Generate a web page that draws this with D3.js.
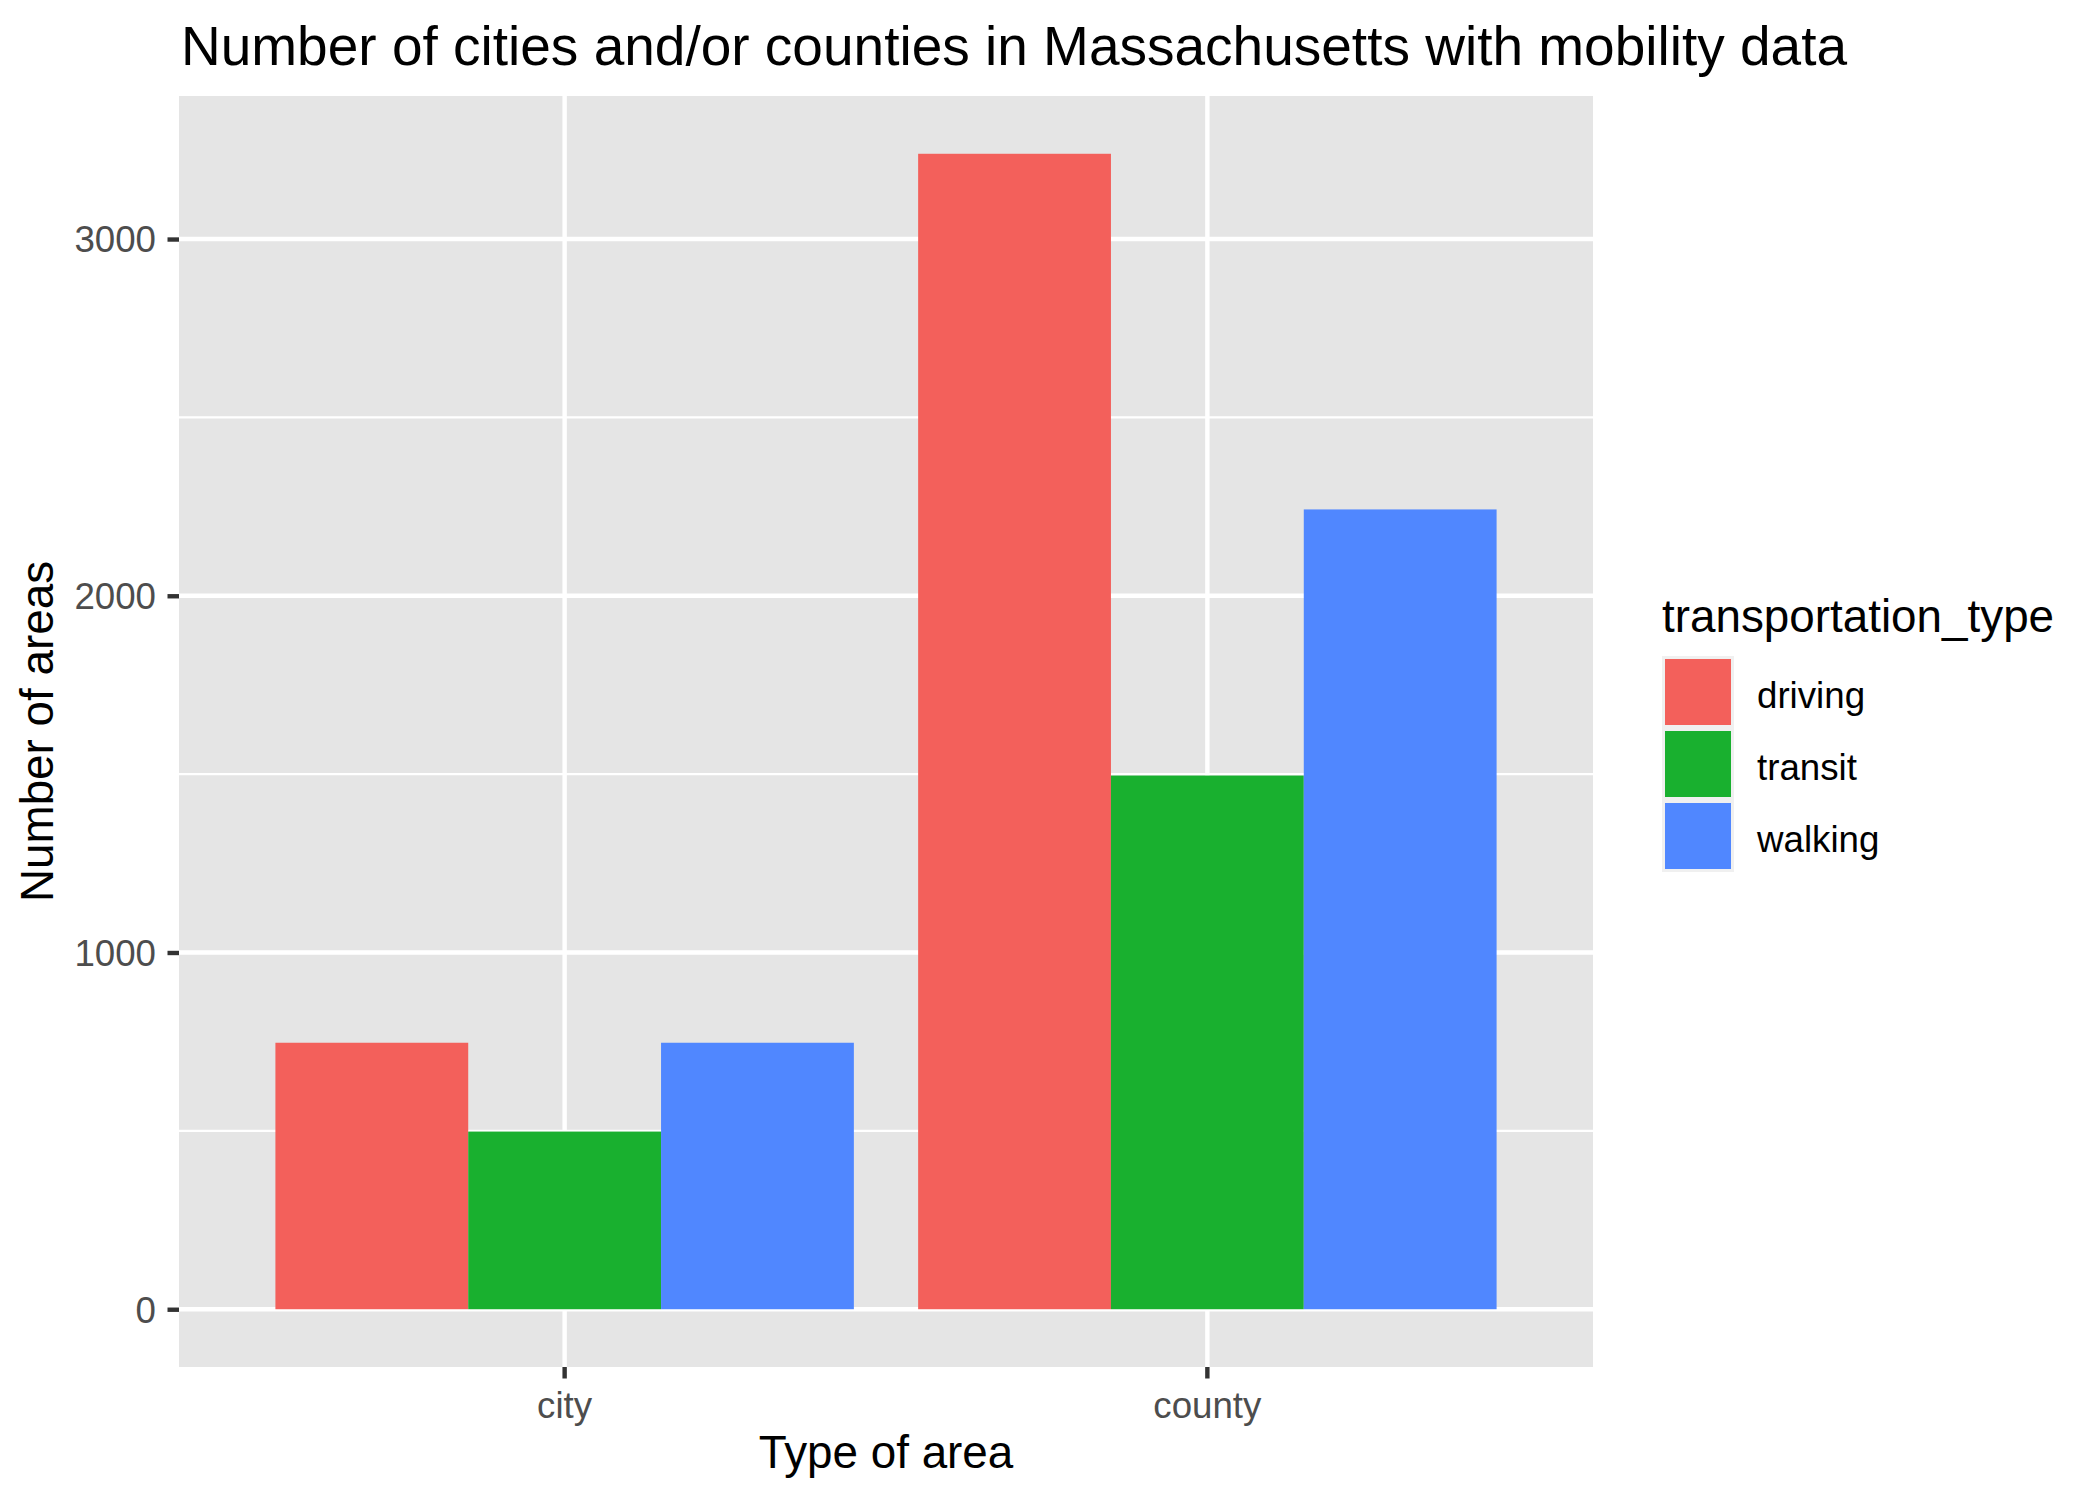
<!DOCTYPE html>
<html>
<head>
<meta charset="utf-8">
<script src="https://cdn.jsdelivr.net/npm/d3@7"></script>
<style>
html, body { margin: 0; padding: 0; background: #fff; }
svg { display: block; font-family: "Liberation Sans", Arial, Helvetica, sans-serif; }
</style>
</head>
<body>
<svg id="chart" width="2099" height="1499"></svg>
<script>
// ---- data ----
const categories = ["city", "county"];
const seriesNames = ["driving", "transit", "walking"];
const driving = [747, 3239];
const transit = [498, 1496];
const walking = [747, 2242];
const yTicks = [0, 1000, 2000, 3000];
const yMinorTicks = [500, 1500, 2500];
const titleText = "Number of cities and/or counties in Massachusetts with mobility data";
const xTitle = "Type of area";
const yTitle = "Number of areas";
const legendTitle = "transportation_type";

const seriesValues = { driving, transit, walking };
const colors = ["#F3605B", "#19B02F", "#5087FF"];

// ---- layout ----
const W = 2099, H = 1499;
const panel = { left: 179, right: 1593, top: 96, bottom: 1367 };
const svg = d3.select("#chart");

const maxV = d3.max(seriesNames.flatMap(s => seriesValues[s]));
const y = d3.scaleLinear()
  .domain([-0.05 * maxV, 1.05 * maxV])
  .range([panel.bottom, panel.top]);
const x = d3.scaleBand()
  .domain(categories)
  .range([panel.left, panel.right])
  .paddingInner(0.1)
  .paddingOuter(0.15);
const xs = d3.scaleBand().domain(seriesNames).range([0, x.bandwidth()]).padding(0);
const color = d3.scaleOrdinal().domain(seriesNames).range(colors);

// panel background
svg.append("rect")
  .attr("x", panel.left).attr("y", panel.top)
  .attr("width", panel.right - panel.left)
  .attr("height", panel.bottom - panel.top)
  .attr("fill", "#E5E5E5");

// grid
const grid = svg.append("g");
grid.selectAll("line.minor").data(yMinorTicks).enter().append("line")
  .attr("x1", panel.left).attr("x2", panel.right)
  .attr("y1", d => y(d)).attr("y2", d => y(d))
  .attr("stroke", "#fff").attr("stroke-width", 2.2);
grid.selectAll("line.majory").data(yTicks).enter().append("line")
  .attr("x1", panel.left).attr("x2", panel.right)
  .attr("y1", d => y(d)).attr("y2", d => y(d))
  .attr("stroke", "#fff").attr("stroke-width", 4.4);
grid.selectAll("line.majorx").data(categories).enter().append("line")
  .attr("x1", d => x(d) + x.bandwidth() / 2).attr("x2", d => x(d) + x.bandwidth() / 2)
  .attr("y1", panel.top).attr("y2", panel.bottom)
  .attr("stroke", "#fff").attr("stroke-width", 4.4);

// bars
const rows = [];
categories.forEach((c, i) => seriesNames.forEach(s => rows.push({ c, s, v: seriesValues[s][i] })));
svg.append("g").selectAll("rect").data(rows).enter().append("rect")
  .attr("x", d => x(d.c) + xs(d.s))
  .attr("width", xs.bandwidth())
  .attr("y", d => y(d.v))
  .attr("height", d => y(0) - y(d.v))
  .attr("fill", d => color(d.s));

// axes
const yAxis = svg.append("g")
  .attr("transform", `translate(${panel.left},0)`)
  .call(d3.axisLeft(y).tickValues(yTicks).tickSize(11.5).tickPadding(11.5).tickFormat(d3.format("d")));
yAxis.select(".domain").remove();
yAxis.selectAll(".tick line").attr("stroke", "#333333").attr("stroke-width", 4.4);
yAxis.selectAll(".tick text").attr("fill", "#4D4D4D").style("font-size", "36.7px")
  .style("font-family", "'Liberation Sans', Arial, sans-serif").attr("dy", "0.35em");

const xAxis = svg.append("g")
  .attr("transform", `translate(0,${panel.bottom})`)
  .call(d3.axisBottom(x).tickSize(11.5).tickPadding(13));
xAxis.select(".domain").remove();
xAxis.selectAll(".tick line").attr("stroke", "#333333").attr("stroke-width", 4.4);
xAxis.selectAll(".tick text").attr("fill", "#4D4D4D").style("font-size", "36.7px")
  .style("font-family", "'Liberation Sans', Arial, sans-serif");

// titles
svg.append("text").attr("x", 181).attr("y", 65)
  .style("font-size", "55px").attr("fill", "#000").text(titleText);
svg.append("text").attr("x", (panel.left + panel.right) / 2).attr("y", 1468)
  .attr("text-anchor", "middle").style("font-size", "45.8px").attr("fill", "#000").text(xTitle);
svg.append("text")
  .attr("transform", `translate(53,${(panel.top + panel.bottom) / 2}) rotate(-90)`)
  .attr("text-anchor", "middle").style("font-size", "45.8px").attr("fill", "#000").text(yTitle);

// legend
const lg = svg.append("g");
lg.append("text").attr("x", 1662).attr("y", 632).style("font-size", "45.8px").attr("fill", "#000").text(legendTitle);
const keyTop = 656, keyH = 72;
lg.append("rect").attr("x", 1662).attr("y", keyTop).attr("width", 72).attr("height", keyH * seriesNames.length)
  .attr("fill", "#F0F0F0");
seriesNames.forEach((s, i) => {
  lg.append("rect").attr("x", 1665).attr("y", keyTop + 3 + i * keyH)
    .attr("width", 66).attr("height", 66).attr("fill", color(s));
  lg.append("text").attr("x", 1757).attr("y", keyTop + keyH / 2 + 3 + i * keyH)
    .attr("dy", "0.35em").style("font-size", "36.7px").attr("fill", "#000").text(s);
});
</script>
</body>
</html>
